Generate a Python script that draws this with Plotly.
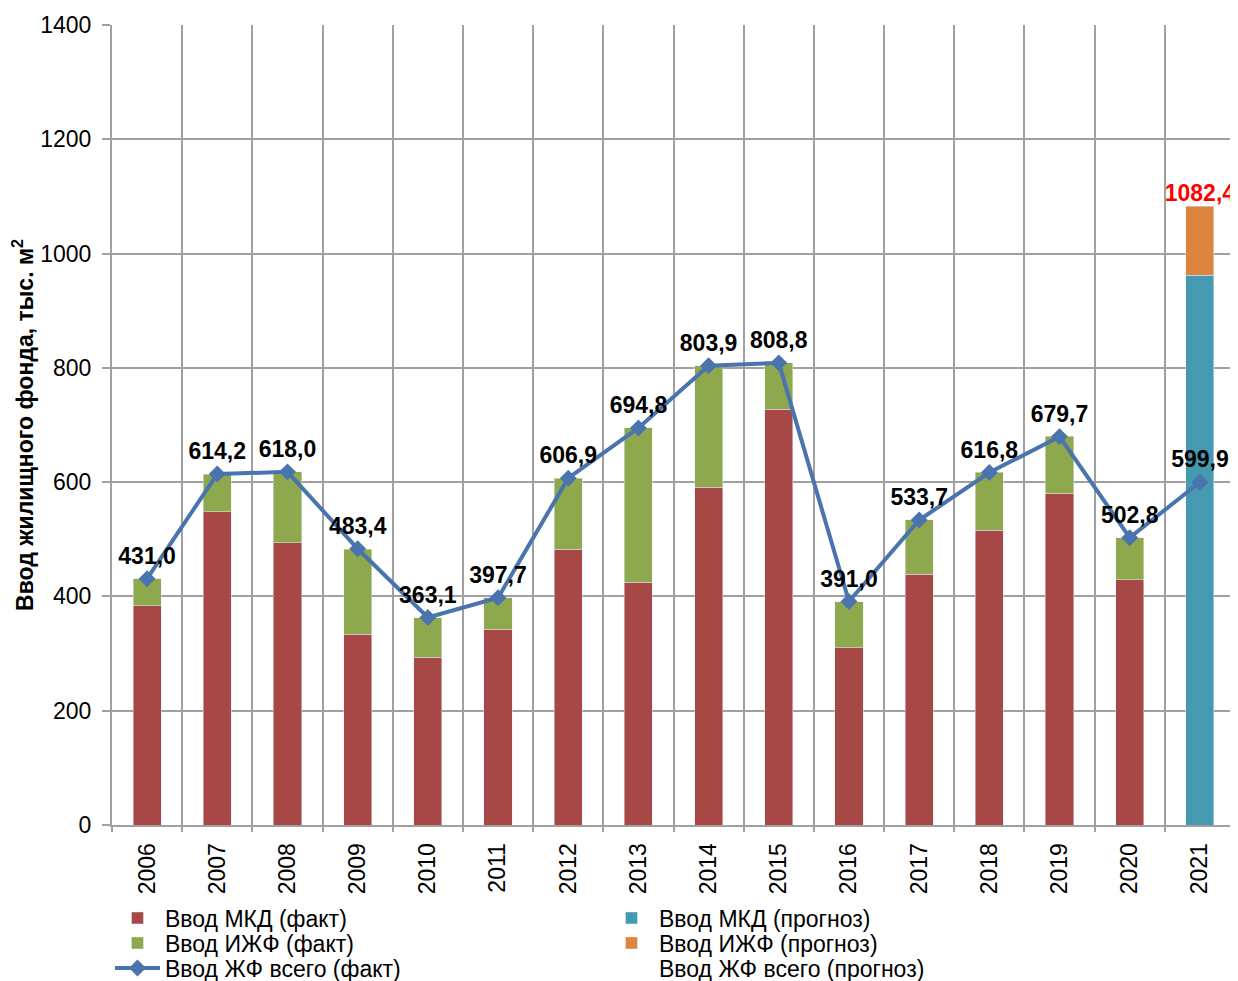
import plotly.graph_objects as go

years = ["2006", "2007", "2008", "2009", "2010", "2011", "2012", "2013",
         "2014", "2015", "2016", "2017", "2018", "2019", "2020", "2021"]
mkd_fact = [384, 548, 494, 334, 294, 343, 483, 425, 591, 728, 310, 439, 516, 581, 429, None]
izhf_fact = [47, 66, 124, 149, 69, 55, 124, 270, 213, 81, 81, 95, 101, 99, 74, None]
mkd_forecast = [None] * 15 + [962.4]
izhf_forecast = [None] * 15 + [120.0]
total_fact = [431.0, 614.2, 618.0, 483.4, 363.1, 397.7, 606.9, 694.8,
              803.9, 808.8, 391.0, 533.7, 616.8, 679.7, 502.8, 599.9]
total_forecast = [None] * 15 + [1082.4]

x = list(range(len(years)))

def fmt(v):
    return f"{v:.1f}".replace(".", ",")

RED = "#A84846"
GREEN = "#8EA84E"
TEAL = "#4599B0"
ORANGE = "#DF843D"
BLUE = "#4A74AE"
GRID = "#A0A0A0"
FS = 23
W, H = 1230, 973

fig = go.Figure()
bw = 0.4
fig.add_trace(go.Bar(x=x, y=mkd_fact, name="Ввод МКД (факт)", marker_color=RED,
                     width=bw, legend="legend"))
fig.add_trace(go.Bar(x=x, y=izhf_fact, name="Ввод ИЖФ (факт)", marker_color=GREEN,
                     width=bw, legend="legend2"))
fig.add_trace(go.Bar(x=x, y=mkd_forecast, name="Ввод МКД (прогноз)", marker_color=TEAL,
                     width=bw, legend="legend4"))
fig.add_trace(go.Bar(x=x, y=izhf_forecast, name="Ввод ИЖФ (прогноз)", marker_color=ORANGE,
                     width=bw, legend="legend5"))
fig.add_trace(go.Scatter(
    x=x, y=total_fact, name="Ввод ЖФ всего (факт)", mode="lines+markers+text",
    line=dict(color=BLUE, width=4), marker=dict(symbol="diamond", size=13, color=BLUE),
    text=[fmt(v) for v in total_fact], textposition="top center", cliponaxis=False,
    textfont=dict(family="Arial", size=FS, color="black", weight="bold"),
    legend="legend3",
))
fig.add_trace(go.Scatter(
    x=x, y=total_forecast, name="Ввод ЖФ всего (прогноз)", mode="lines",
    line=dict(color="rgba(0,0,0,0)", width=0), legend="legend6",
))
fig.add_trace(go.Scatter(
    x=x, y=total_forecast, mode="text", showlegend=False, cliponaxis=False,
    text=[fmt(v) if v is not None else "" for v in total_forecast],
    textposition="top center",
    textfont=dict(family="Arial", size=FS, color="red", weight="bold"),
))

def leg(xp, row_px):
    # xp: paper x of the legend; row_px: vertical centre in px from top of figure
    return dict(
        orientation="h", x=xp, xanchor="left",
        yref="container", y=(H - row_px) / H, yanchor="middle",
        itemwidth=45,
        font=dict(family="Arial", size=FS, color="black"),
        traceorder="normal", bgcolor="rgba(0,0,0,0)",
    )

COL1, COL2 = -0.0018, 0.4381
ROWS = [910, 935, 960]

fig.update_layout(
    barmode="stack",
    width=W, height=H,
    margin=dict(l=104, r=3, t=17, b=156),
    plot_bgcolor="white", paper_bgcolor="white",
    font=dict(family="Arial", size=FS, color="black"),
    showlegend=True,
    legend=leg(COL1, ROWS[0]),
    legend2=leg(COL1, ROWS[1]),
    legend3=leg(COL1, ROWS[2]),
    legend4=leg(COL2, ROWS[0]),
    legend5=leg(COL2, ROWS[1]),
    legend6=leg(COL2, ROWS[2]),
    xaxis=dict(
        range=[-0.5, 15.5], tickmode="array", tickvals=x, ticktext=years,
        tickangle=-90, showgrid=False, zeroline=False, automargin=False,
        showline=True, linecolor=GRID, linewidth=2,
        ticks="", ticklabelstandoff=7,
        tickfont=dict(family="Arial", size=FS, color="black"),
        minor=dict(tickmode="array", tickvals=[i - 0.5 for i in range(17)],
                   showgrid=True, gridcolor=GRID, gridwidth=2,
                   ticks="outside", ticklen=5, tickcolor=GRID, tickwidth=2),
    ),
    yaxis=dict(
        range=[0, 1400], tickmode="linear", dtick=200, showgrid=True,
        gridcolor=GRID, gridwidth=2, zeroline=False, automargin=False,
        showline=True, linecolor=GRID, linewidth=2,
        ticks="outside", ticklen=8, tickcolor=GRID, tickwidth=2,
        ticklabelstandoff=6,
        tickfont=dict(family="Arial", size=FS, color="black"),
        title=dict(text="Ввод жилищного фонда, тыс. м<sup>2</sup>",
                   font=dict(family="Arial", size=FS, color="black", weight="bold"),
                   standoff=10),
    ),
)

fig.write_html("out.html")
